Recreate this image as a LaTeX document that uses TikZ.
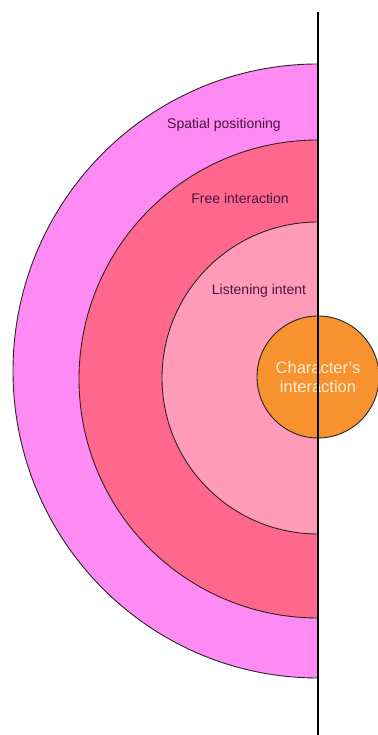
\documentclass[tikz,border=0pt]{standalone}
\usepackage{fontspec}
\setsansfont{Liberation Sans}
\usepackage{tikz}
\usetikzlibrary{positioning}
\definecolor{ciOuter}{RGB}{255,138,244}
\definecolor{ciMiddle}{RGB}{255,104,140}
\definecolor{ciInner}{RGB}{255,155,185}
\definecolor{ciCore}{RGB}{247,146,46}
\definecolor{ciText}{RGB}{72,22,62}
\definecolor{ciCoreText}{RGB}{255,236,212}
\tikzset{
    base/.style={font=\sffamily, align=center},
    layer/.style={draw=black!85, line width=0.9pt},
    layerlabel/.style={base, font=\fontsize{14}{16}\selectfont\sffamily, text=ciText, anchor=base, inner sep=0pt},
    core/.style={base, circle, draw=black!85, line width=0.9pt, fill=ciCore, text=ciCoreText,
                 minimum size=122pt, inner sep=0pt,
                 font=\fontsize{16.5}{19}\selectfont\sffamily},
    axis/.style={line width=1.8pt, color=black}
}
\begin{document}
\begin{tikzpicture}[x=1pt, y=1pt]
  \useasboundingbox (0,0) rectangle (377,735);

  % Nested half circles
  \filldraw[layer, fill=ciOuter] (318,671) arc[start angle=90, end angle=270, x radius=305, y radius=307] -- cycle;
  \filldraw[layer, fill=ciMiddle] (318,595) arc[start angle=90, end angle=270, radius=239] -- cycle;
  \filldraw[layer, fill=ciInner] (318,513) arc[start angle=90, end angle=270, radius=156] -- cycle;

  % Layer labels
  \node[layerlabel] (spatial) at (224,606) {Spatial positioning};
  \node[layerlabel] (free) at (240,531) {Free interaction};
  \node[layerlabel] (listening) at (259,440) {Listening intent};

  % Centre
  \node[core] (charint) at (318,358) {Character's\\interaction};

  % Axis
  \coordinate (axisTop) at (318,723);
  \coordinate (axisBot) at (318,0);
  \draw[axis] (axisTop) -- (axisBot);
\end{tikzpicture}
\end{document}
